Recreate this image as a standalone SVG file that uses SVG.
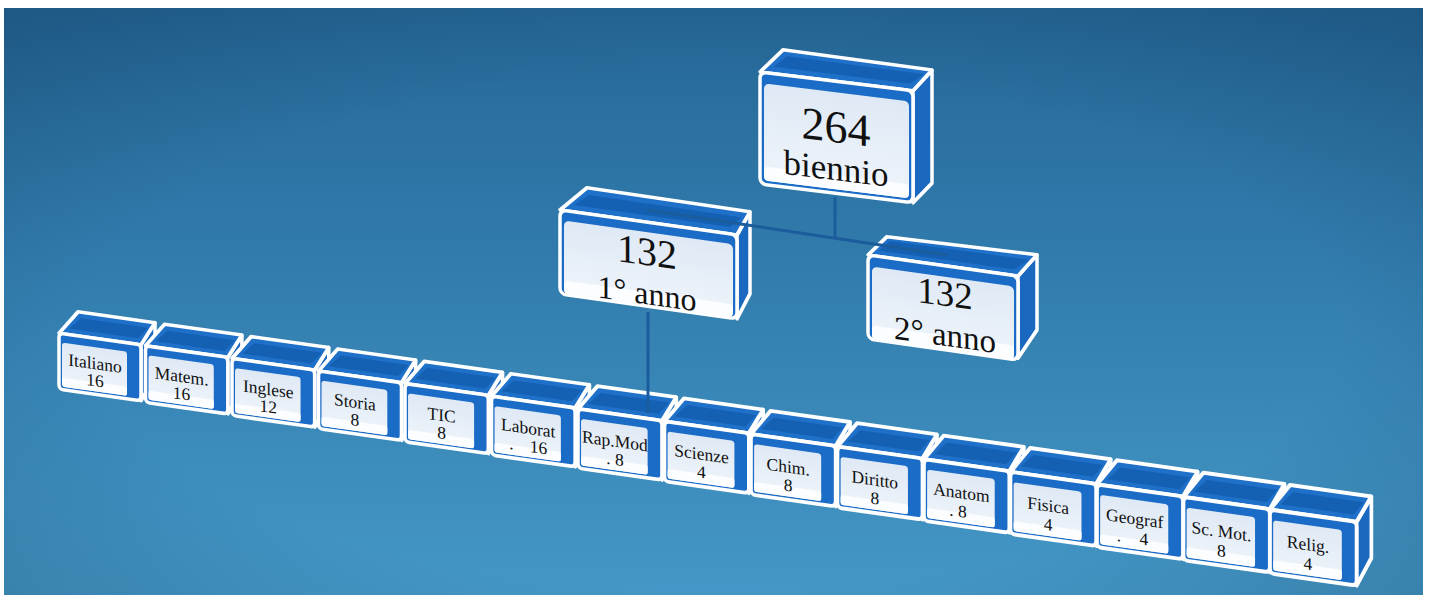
<svg xmlns="http://www.w3.org/2000/svg" xmlns:xlink="http://www.w3.org/1999/xlink" width="1430" height="595" viewBox="0 0 1430 595">
<defs>
<linearGradient id="bg" x1="0" y1="0" x2="0" y2="1">
<stop offset="0" stop-color="#256797"/>
<stop offset="0.5" stop-color="#337fb0"/>
<stop offset="1" stop-color="#4497c6"/>
</linearGradient>
<radialGradient id="vig" cx="0.5" cy="0.55" r="0.8">
<stop offset="0.55" stop-color="#0a2a4a" stop-opacity="0"/>
<stop offset="1" stop-color="#0a2a4a" stop-opacity="0.3"/>
</radialGradient>
<linearGradient id="pan" x1="0" y1="0" x2="0" y2="1">
<stop offset="0" stop-color="#dfe9f5"/>
<stop offset="1" stop-color="#eef4fa"/>
</linearGradient>
<style>
.lid{fill:#1f70c9;stroke:#fff;stroke-width:3.5;stroke-linejoin:round}
.tray{fill:#1460b3}
.side{fill:#1a68bf;stroke:#fff;stroke-width:3.5;stroke-linejoin:round}
.front{fill:#1b6cc6;stroke:#fff;stroke-width:3.5}
.panel{fill:url(#pan)}
.band{fill:#fbfdff}
.t{font-family:"Liberation Serif","DejaVu Serif",serif;fill:#111;text-anchor:middle}
.s{font-size:17.5px}
.conn{stroke:#1b5c9c;stroke-width:3;fill:none}
</style>
<g id="sbox">
<polygon class="side" points="82,0 96,-24 96,30 82,56"/>
<polygon class="lid" points="0,0 19,-24 96,-24 82,0"/>
<polygon class="tray" points="10,-6 22,-18 89,-18 79,-6"/>
<rect class="front" x="0" y="0" width="82" height="56" rx="4"/>
<rect class="panel" x="3" y="9" width="65" height="44" rx="3"/>
<rect class="band" x="3" y="44" width="65" height="9" rx="2"/>
</g>
</defs>
<rect x="0" y="0" width="1430" height="595" fill="#fff"/>
<rect x="4" y="8" width="1419" height="587" fill="url(#bg)"/>
<rect x="4" y="8" width="1419" height="587" fill="url(#vig)"/>

<g id="node-biennio" transform="translate(760,72) skewY(7)">
<polygon class="side" points="153,0 172,-23 172,90 153,112"/>
<polygon class="lid" points="0,0 23,-25 172,-23 153,0"/>
<polygon class="tray" points="14,-7 27,-19 164,-18 150,-7"/>
<rect class="front" x="0" y="0" width="153" height="112" rx="6"/>
<rect class="panel" x="4" y="11" width="145" height="97" rx="5"/>
<rect class="band" x="4" y="94" width="145" height="14" rx="4"/>
<text class="t" x="76" y="61" font-size="46">264</text>
<text class="t" x="76" y="99" font-size="35">biennio</text>
</g>

<g id="node-anno1" transform="translate(560,210) skewY(8)">
<polygon class="side" points="177,0 190,-25 190,57 177,84"/>
<polygon class="lid" points="0,0 27,-26 190,-25 177,0"/>
<polygon class="tray" points="14,-7 29,-19 182,-18 170,-7"/>
<rect class="front" x="0" y="0" width="177" height="84" rx="6"/>
<rect class="panel" x="4" y="10" width="169" height="73" rx="5"/>
<rect class="band" x="4" y="70" width="169" height="13" rx="4"/>
<text class="t" x="87" y="43" font-size="40">132</text>
<text class="t" x="87" y="82" font-size="32">1° anno</text>
</g>

<g id="node-anno2" transform="translate(868,255) skewY(8)">
<polygon class="side" points="150,0 169,-24 169,51 150,82"/>
<polygon class="lid" points="0,0 19,-21 169,-24 150,0"/>
<polygon class="tray" points="11,-6 22,-17 161,-18 146,-6"/>
<rect class="front" x="0" y="0" width="150" height="84" rx="6"/>
<rect class="panel" x="4" y="11" width="142" height="73" rx="5"/>
<rect class="band" x="4" y="70" width="142" height="14" rx="4"/>
<text class="t" x="77" y="40" font-size="37">132</text>
<text class="t" x="77" y="80" font-size="33">2° anno</text>
</g>

<g id="node-italiano" transform="translate(59,333.2) skewY(8)">
<use xlink:href="#sbox" href="#sbox"/>
<text class="t s" x="36" y="31">Italiano</text>
<text class="t s" x="36" y="48">16</text>
</g>
<g id="node-matem" transform="translate(145.5,345.8) skewY(8)">
<use xlink:href="#sbox" href="#sbox" transform="scale(1.004,1.01)"/>
<text class="t s" x="36.1" y="31.3">Matem.</text>
<text class="t s" x="36.1" y="48.5">16</text>
</g>
<g id="node-inglese" transform="translate(232,358.4) skewY(8)">
<use xlink:href="#sbox" href="#sbox" transform="scale(1.008,1.02)"/>
<text class="t s" x="36.3" y="31.6">Inglese</text>
<text class="t s" x="36.3" y="49">12</text>
</g>
<g id="node-storia" transform="translate(318.5,371) skewY(8)">
<use xlink:href="#sbox" href="#sbox" transform="scale(1.012,1.03)"/>
<text class="t s" x="36.4" y="31.9">Storia</text>
<text class="t s" x="36.4" y="49.4">8</text>
</g>
<g id="node-tic" transform="translate(405,383.6) skewY(8)">
<use xlink:href="#sbox" href="#sbox" transform="scale(1.016,1.04)"/>
<text class="t s" x="36.6" y="32.2">TIC</text>
<text class="t s" x="36.6" y="49.9">8</text>
</g>
<g id="node-laborat" transform="translate(491.5,396.2) skewY(8)">
<use xlink:href="#sbox" href="#sbox" transform="scale(1.02,1.05)"/>
<text class="t s" x="36.7" y="32.6">Laborat</text>
<text class="t s" x="20" y="50.4">.</text>
<text class="t s" x="47" y="50.4">16</text>
</g>
<g id="node-rapmod" transform="translate(578,408.8) skewY(8)">
<use xlink:href="#sbox" href="#sbox" transform="scale(1.024,1.06)"/>
<text class="t s" x="36.9" y="32.9">Rap.Mod</text>
<text class="t s" x="37" y="50.9">. 8</text>
</g>
<g id="node-scienze" transform="translate(664.5,421.4) skewY(8)">
<use xlink:href="#sbox" href="#sbox" transform="scale(1.028,1.07)"/>
<text class="t s" x="37" y="33.2">Scienze</text>
<text class="t s" x="37" y="51.4">4</text>
</g>
<g id="node-chim" transform="translate(751,434) skewY(8)">
<use xlink:href="#sbox" href="#sbox" transform="scale(1.032,1.08)"/>
<text class="t s" x="37.2" y="33.5">Chim.</text>
<text class="t s" x="37.2" y="51.8">8</text>
</g>
<g id="node-diritto" transform="translate(837.5,446.6) skewY(8)">
<use xlink:href="#sbox" href="#sbox" transform="scale(1.036,1.09)"/>
<text class="t s" x="37.3" y="33.8">Diritto</text>
<text class="t s" x="37.3" y="52.3">8</text>
</g>
<g id="node-anatom" transform="translate(924,459.2) skewY(8)">
<use xlink:href="#sbox" href="#sbox" transform="scale(1.04,1.1)"/>
<text class="t s" x="37.4" y="34.1">Anatom</text>
<text class="t s" x="34" y="52.8">. 8</text>
</g>
<g id="node-fisica" transform="translate(1010.5,471.8) skewY(8)">
<use xlink:href="#sbox" href="#sbox" transform="scale(1.044,1.11)"/>
<text class="t s" x="37.6" y="34.4">Fisica</text>
<text class="t s" x="37.6" y="53.3">4</text>
</g>
<g id="node-geograf" transform="translate(1097,484.4) skewY(8)">
<use xlink:href="#sbox" href="#sbox" transform="scale(1.048,1.12)"/>
<text class="t s" x="37.7" y="34.7">Geograf</text>
<text class="t s" x="22" y="53.8">.</text>
<text class="t s" x="47" y="53.8">4</text>
</g>
<g id="node-scmot" transform="translate(1183.5,497) skewY(8)">
<use xlink:href="#sbox" href="#sbox" transform="scale(1.052,1.13)"/>
<text class="t s" x="37.9" y="35">Sc. Mot.</text>
<text class="t s" x="37.9" y="54.2">8</text>
</g>
<g id="node-relig" transform="translate(1270,509.6) skewY(8)">
<use xlink:href="#sbox" href="#sbox" transform="scale(1.056,1.14)"/>
<text class="t s" x="38" y="35.3">Relig.</text>
<text class="t s" x="38" y="54.7">4</text>
</g>

<g id="connectors">
<line class="conn" x1="835" y1="197" x2="835" y2="238"/>
<line class="conn" x1="647" y1="210" x2="947" y2="255"/>
<line class="conn" x1="648" y1="312" x2="648" y2="413"/>
</g>
</svg>
